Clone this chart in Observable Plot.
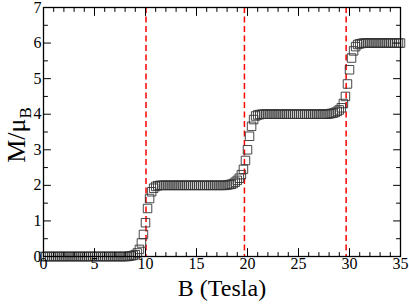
<!DOCTYPE html>
<html><head><meta charset="utf-8">
<script src="https://cdn.jsdelivr.net/npm/d3@7"></script>
<script src="https://cdn.jsdelivr.net/npm/@observablehq/plot@0.6"></script>
<style>
html,body{margin:0;padding:0;background:#fff}
svg{display:block}
svg text, svg tspan{font-family:"Liberation Serif","Tinos","Times New Roman","Times","Nimbus Roman","Nimbus Roman No9 L","FreeSerif","DejaVu Serif","Noto Serif",serif !important}
</style>
</head><body><div id="chart"></div>
<script>
// Magnetic field B (Tesla)
const fieldB = [
  0,0.2,0.4,0.6,0.8, 1,1.2,1.4,1.6,1.8, 2,2.2,2.4,2.6,2.8, 3,3.2,3.4,3.6,3.8,
  4,4.2,4.4,4.6,4.8, 5,5.2,5.4,5.6,5.8, 6,6.2,6.4,6.6,6.8, 7,7.2,7.4,7.6,7.8,
  8,8.2,8.4,8.6,8.8, 9,9.2,9.4,9.6,9.8, 10,10.2,10.4,10.6,10.8, 11,11.2,11.4,11.6,11.8,
  12,12.2,12.4,12.6,12.8, 13,13.2,13.4,13.6,13.8, 14,14.2,14.4,14.6,14.8, 15,15.2,15.4,15.6,15.8,
  16,16.2,16.4,16.6,16.8, 17,17.2,17.4,17.6,17.8, 18,18.2,18.4,18.6,18.8, 19,19.2,19.4,19.6,19.8,
  20,20.2,20.4,20.6,20.8, 21,21.2,21.4,21.6,21.8, 22,22.2,22.4,22.6,22.8, 23,23.2,23.4,23.6,23.8,
  24,24.2,24.4,24.6,24.8, 25,25.2,25.4,25.6,25.8, 26,26.2,26.4,26.6,26.8, 27,27.2,27.4,27.6,27.8,
  28,28.2,28.4,28.6,28.8, 29,29.2,29.4,29.6,29.8, 30,30.2,30.4,30.6,30.8, 31,31.2,31.4,31.6,31.8,
  32,32.2,32.4,32.6,32.8, 33,33.2,33.4,33.6,33.8, 34,34.2,34.4,34.6,34.8, 35
];
// Magnetization M / mu_B
const magnetM = [
  0,0,0,0,0, 0,0,0,0,0, 0,0,0,0,0, 0,0,0,0,0,
  0,0,0,0,0, 0,0,0,0,0, 0,0,0,0,0, 0,0,0,0,0,
  0,0,0.01,0.02,0.03, 0.05,0.1,0.2,0.38,0.62, 0.95,1.35,1.63,1.82,1.92, 1.97,1.99,2,2,2,
  2,2,2,2,2, 2,2,2,2,2, 2,2,2,2,2, 2,2,2,2,2,
  2,2,2,2,2, 2,2,2,2,2, 2.01,2.02,2.03,2.05,2.09, 2.14,2.2,2.3,2.45,2.7,
  3.0,3.38,3.66,3.85,3.95, 3.98,3.99,4,4,4, 4,4,4,4,4, 4,4,4,4,4,
  4,4,4,4,4, 4,4,4,4,4, 4,4,4,4,4, 4,4,4,4,4,
  4.01,4.02,4.03,4.05,4.08, 4.12,4.18,4.3,4.5,4.85, 5.25,5.58,5.78,5.9,5.96, 5.98,5.99,6,6,6,
  6,6,6,6,6, 6,6,6,6,6, 6,6,6,6,6, 6
];
// Critical fields (red dashed lines)
const criticalFields = [10.05, 19.7, 29.67];
const xTicks = [0,5,10,15,20,25,30,35];
const yTicks = [0,1,2,3,4,5,6,7];
const xMinorTicks = [1,2,3,4,6,7,8,9,11,12,13,14,16,17,18,19,21,22,23,24,26,27,28,29,31,32,33,34];
const yMinorTicks = [0.5,1.5,2.5,3.5,4.5,5.5,6.5];

const serif = '"Liberation Serif","Tinos","Times New Roman","Times","Nimbus Roman","FreeSerif","DejaVu Serif","Noto Serif",serif';
const points = fieldB.map((b, i) => ({B: b, M: magnetM[i]}));
const tickShape = {draw(context, l) { context.moveTo(0, 0); context.lineTo(0, -l); }};
const tk = (data, ch, anchor, rotate, len) => Plot.vector(data, {
  [ch]: d => d, frameAnchor: anchor, rotate, length: len, anchor: "start",
  shape: tickShape, stroke: "black", strokeWidth: 1
});

const chart = Plot.plot({
  width: 409, height: 304,
  marginLeft: 43, marginRight: 9, marginTop: 7, marginBottom: 48,
  style: {fontFamily: serif, fontSize: "16px", background: "#fff", color: "#000"},
  x: {domain: [0, 35]},
  y: {domain: [0, 7]},
  marks: [
    Plot.ruleX(criticalFields, {stroke: "#ff0000", strokeWidth: 1.5, strokeDasharray: "6,3.5"}),
    Plot.dot(points, {x: "B", y: "M", symbol: "square", r: 4.8, stroke: "#333", strokeWidth: 0.9, fill: "none"}),
    Plot.frame({stroke: "#000", strokeWidth: 1.3}),
    tk(xTicks, "x", "bottom", 0, 8), tk(xMinorTicks, "x", "bottom", 0, 4),
    tk(xTicks, "x", "top", 180, 8), tk(xMinorTicks, "x", "top", 180, 4),
    tk(yTicks, "y", "left", 90, 7), tk(yMinorTicks, "y", "left", 90, 4),
    tk(yTicks, "y", "right", -90, 7), tk(yMinorTicks, "y", "right", -90, 4),
    Plot.axisX(xTicks, {tickSize: 0, tickPadding: 1, label: null, fontSize: 16, fontFamily: serif}),
    Plot.axisY(yTicks, {tickSize: 0, tickPadding: 2, label: null, fontSize: 16, fontFamily: serif}),
    Plot.text(["B (Tesla)"], {frameAnchor: "bottom", dy: 39, fontSize: 24, fontFamily: serif, text: d => d})
  ]
});
document.getElementById("chart").appendChild(chart);

// y-axis label with subscript
const svg = d3.select(chart);
const yl = svg.append("text")
  .attr("transform", "translate(25,135) rotate(-90)")
  .attr("text-anchor", "middle")
  .attr("font-family", serif)
  .attr("font-size", 26)
  .attr("fill", "#000");
yl.append("tspan").text("M/μ");
yl.append("tspan").attr("font-size", 17).attr("dy", 6).text("B");
</script>
</body></html>
